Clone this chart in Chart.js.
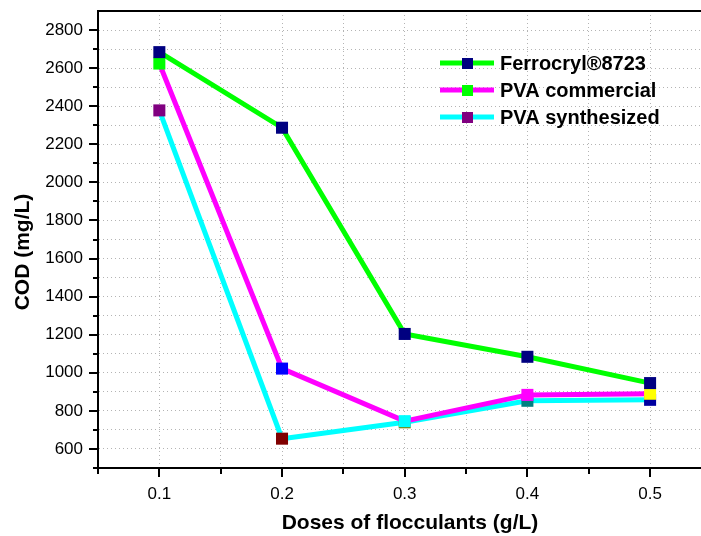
<!DOCTYPE html>
<html lang="en">
<head>
    <meta charset="UTF-8">
    <title>COD vs flocculant dose</title>
    <script src="https://cdn.jsdelivr.net/npm/chart.js"></script>
    <style>
        body { margin: 0; background: #fff; }
    </style>
</head>
<body>
    <canvas id="myChart" width="701" height="536"></canvas>
    <script>

const doses = [0.1, 0.2, 0.3, 0.4, 0.5];
const ferrocryl = [2684, 2287, 1204, 1084, 946];
const pvaCommercial = [2624, 1022, 746, 884, 890];
const pvaSynthesized = [2378, 654, 740, 853, 858];
const seriesNames = ['Ferrocryl\u00AE8723', 'PVA commercial', 'PVA synthesized'];
const xTickLabels = ['0.1', '0.2', '0.3', '0.4', '0.5'];
const yTickLabels = ['600', '800', '1000', '1200', '1400', '1600', '1800', '2000', '2200', '2400', '2600', '2800'];

// origin style: marker colour steps through the palette point by point
const ferroMarkers = ['#000080', '#000080', '#000080', '#000080', '#000080'];
const commMarkers = ['#00ff00', '#0000ff', '#00ffff', '#ff00ff', '#ffff00'];
const synthMarkers = ['#800080', '#800000', '#808000', '#008080', '#0000a0'];

const font = "Arial, 'Liberation Sans', sans-serif";

function pts(ys) {
    return doses.map((d, i) => ({ x: d, y: ys[i] }));
}

// every 0.05 on x, every 100 on y (grid + minor ticks)
function xGridValues() {
    const out = [];
    for (let k = 1; k <= 10; k++) out.push(+(k * 0.05).toFixed(2));
    return out;
}
function yGridValues() {
    const out = [];
    for (let v = 500; v <= 2800; v += 100) out.push(v);
    return out;
}

// tick marks, top frame, axis titles and legend
const extras = {
    id: 'extras',
    afterDraw(chart) {
        const ctx = chart.ctx;
        const xs = chart.scales.x, ys = chart.scales.y;
        const a = chart.chartArea;
        ctx.save();
        ctx.strokeStyle = '#000';
        ctx.lineWidth = 2;
        ctx.beginPath();
        ctx.moveTo(a.left - 1, a.top);
        ctx.lineTo(a.right, a.top);
        ctx.stroke();

        ctx.beginPath();
        yGridValues().forEach(v => {
            const py = Math.round(ys.getPixelForValue(v));
            const len = v % 200 === 0 ? 9 : 5;
            ctx.moveTo(a.left, py);
            ctx.lineTo(a.left - len, py);
        });
        xGridValues().forEach((v, k) => {
            const px = Math.round(xs.getPixelForValue(v));
            const len = k % 2 === 1 ? 9 : 6;
            ctx.moveTo(px, a.bottom);
            ctx.lineTo(px, a.bottom + len);
        });
        ctx.stroke();

        ctx.fillStyle = '#000';
        ctx.font = 'bold 21px ' + font;
        ctx.textAlign = 'center';
        ctx.textBaseline = 'middle';
        ctx.fillText('Doses of flocculants (g/L)', 410, 523);
        ctx.save();
        ctx.translate(23, 252);
        ctx.rotate(-Math.PI / 2);
        ctx.fillText('COD (mg/L)', 0, 0);
        ctx.restore();

        // legend
        ctx.font = 'bold 20px ' + font;
        ctx.textAlign = 'left';
        chart.data.datasets.forEach((ds, i) => {
            const y = 63 + i * 27;
            ctx.strokeStyle = ds.borderColor;
            ctx.lineWidth = 5;
            ctx.beginPath();
            ctx.moveTo(440, y);
            ctx.lineTo(494, y);
            ctx.stroke();
            ctx.fillStyle = ds.pointBackgroundColor[0];
            ctx.fillRect(462, y - 5, 11, 11);
            ctx.fillStyle = '#000';
            ctx.fillText(ds.label, 500, y + 1);
        });
        ctx.restore();
    }
};

const ctx = document.getElementById('myChart').getContext('2d');
const myChart = new Chart(ctx, {
    type: 'line',
    data: {
        datasets: [{
            label: seriesNames[0],
            data: pts(ferrocryl),
            borderColor: '#00ff00',
            pointBackgroundColor: ferroMarkers,
            pointBorderColor: ferroMarkers
        }, {
            label: seriesNames[1],
            data: pts(pvaCommercial),
            borderColor: '#ff00ff',
            pointBackgroundColor: commMarkers,
            pointBorderColor: commMarkers
        }, {
            label: seriesNames[2],
            data: pts(pvaSynthesized),
            borderColor: '#00ffff',
            pointBackgroundColor: synthMarkers,
            pointBorderColor: synthMarkers
        }]
    },
    options: {
        responsive: false,
        animation: false,
        layout: { autoPadding: false, padding: { top: 11, right: 0, left: 0, bottom: 0 } },
        elements: {
            line: { borderWidth: 5, tension: 0 },
            point: { pointStyle: 'rect', radius: 8.5, borderWidth: 0 }
        },
        plugins: {
            legend: { display: false },
            tooltip: { enabled: false }
        },
        scales: {
            x: {
                type: 'linear',
                min: 0.05,
                max: 0.5415,
                afterBuildTicks: s => { s.ticks = xGridValues().map(v => ({ value: v })); },
                afterFit: s => { s.height = 68; },
                ticks: {
                    autoSkip: false,
                    maxRotation: 0,
                    padding: 0,
                    color: '#000',
                    font: { family: font, size: 17 },
                    callback: v => {
                        const lbl = v.toFixed(1);
                        return Math.abs(v * 10 - Math.round(v * 10)) < 1e-6 && xTickLabels.includes(lbl) ? lbl : '';
                    }
                },
                grid: {
                    drawTicks: true,
                    tickLength: 16,
                    tickColor: 'rgba(0,0,0,0)',
                    color: '#b4b4b4'
                },
                border: { display: true, color: '#000', width: 2, dash: [1, 3] }
            },
            y: {
                min: 500,
                max: 2900,
                afterBuildTicks: s => { s.ticks = yGridValues().map(v => ({ value: v })); },
                afterFit: s => { s.width = 98; },
                ticks: {
                    autoSkip: false,
                    padding: 0,
                    color: '#000',
                    font: { family: font, size: 17 },
                    callback: v => yTickLabels.includes(String(v)) ? String(v) : ''
                },
                grid: {
                    drawTicks: true,
                    tickLength: 15,
                    tickColor: 'rgba(0,0,0,0)',
                    color: '#b4b4b4'
                },
                border: { display: true, color: '#000', width: 2, dash: [1, 3] }
            }
        }
    },
    plugins: [extras]
});

    </script>
</body>
</html>
